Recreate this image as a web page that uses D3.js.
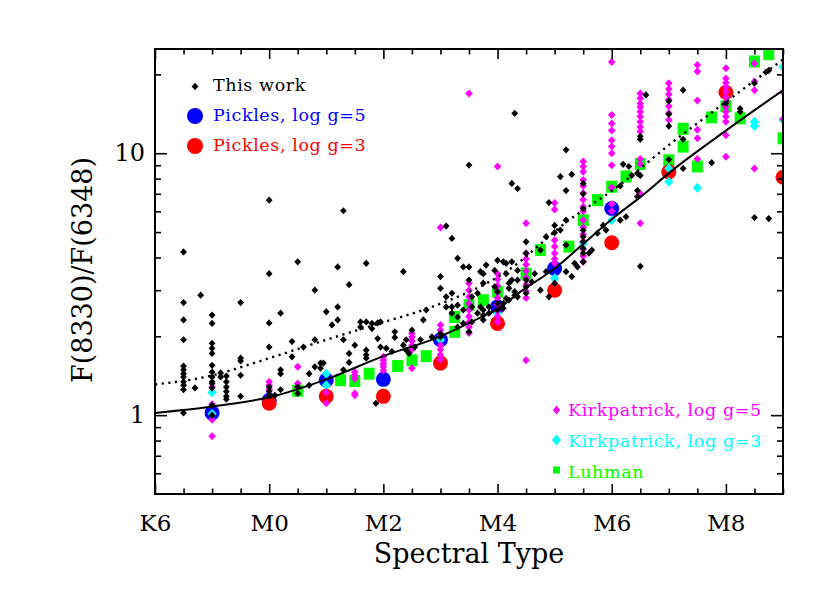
<!DOCTYPE html>
<html lang="en">
<head>
<meta charset="UTF-8">
<title>F(8330)/F(6348) vs Spectral Type</title>
<style>
  body { margin: 0; background: #fff; }
  svg text { font-family: "DejaVu Serif", serif; }
</style>
</head>
<body>
<svg id="chart" width="830" height="593"></svg>
<script src="https://d3js.org/d3.v7.min.js"></script>
<script>
// spectral subtype: K6=-2, K7=-1, M0=0 ... M9=9
const majorX = [-2, 0, 2, 4, 6, 8];
const xLabels = ["K6", "M0", "M2", "M4", "M6", "M8"];
const minorX = d3.range(-1.5, 9.01, 0.5).filter(v => !majorX.includes(v));
const majorY = [1, 10];
const minorY = [0.6, 0.7, 0.8, 0.9, 2, 3, 4, 5, 6, 7, 8, 9, 20];

const thisWork = [
  [-1.5,4.2],[-1.5,2.69],[-1.5,2.31],[-1.5,1.94],[-1.5,1.54],[-1.5,1.49],[-1.5,1.44],[-1.5,1.40],[-1.5,1.34],[-1.5,1.30],[-1.5,1.25],[-1.5,1.02],
  [-1.2,2.87],[-1.3,1.27],
  [-1,2.41],[-1,2.24],[-1,1.88],[-1,1.80],[-1,1.72],[-1,1.55],[-1,1.46],[-1,1.40],[-1,1.34],[-1,1.32],[-1,1.27],[-1,1.09],[-1,1.0],
  [-0.85,1.45],[-0.85,1.40],
  [-0.75,1.41],[-0.75,1.34],[-0.75,1.28],[-0.75,1.23],[-0.75,1.18],[-0.75,1.15],
  [-0.5,2.69],[-0.5,1.65],[-0.5,1.61],[-0.5,1.42],[-0.5,1.18],
  [0,6.62],[0,3.47],[0,2.25],[0,1.82],[0,1.28],[0,1.23],[0,1.18],
  [0.1,1.19],[0.2,2.45],[0.2,1.49],[0.2,1.44],[0.2,1.25],
  [0.4,1.91],[0.4,1.67],[0.5,3.85],[0.5,1.28],[0.5,1.21],[0.6,1.82],[0.7,1.44],[0.7,1.30],
  [0.8,3.0],[0.8,1.94],[0.8,1.53],[0.9,1.58],[0.95,1.58],[0.9,1.51],
  [1,2.48],[1.1,2.21],[1.2,2.59],[1.2,3.68],[1.2,2.31],
  [1.3,6.03],[1.3,1.94],[1.3,1.49],[1.4,3.15],[1.4,1.72],[1.4,1.59],[1.5,1.85],
  [1.6,2.27],[1.6,2.17],[1.7,2.27],[1.7,3.8],[1.7,1.77],[1.7,1.70],[1.7,1.65],
  [1.8,2.24],[1.8,2.14],[1.9,2.25],[1.9,1.96],[1.87,1.11],[1.95,2.27],[1.95,1.82],
  [2.05,1.80],[2.15,1.75],[2.2,2.08],[2.2,1.98],[2.35,3.53],[2.35,1.85],
  [2.4,1.94],[2.4,1.77],[2.45,1.72],[2.5,2.11],[2.55,1.82],[2.65,1.94],[2.7,2.31],[2.75,2.52],[2.85,1.99],
  [3,3.38],[3,3.05],[3,2.05],[3,1.99],[3.1,5.27],[3.1,2.59],[3.1,2.83],
  [3.2,4.73],[3.2,2.92],[3.2,2.59],[3.2,2.45],[3.3,3.97],[3.3,2.37],[3.3,2.63],[3.3,2.17],
  [3.4,3.68],[3.4,2.52],[3.4,2.24],[3.5,9.0],[3.5,3.68],[3.5,3.28],[3.5,2.08],
  [3.55,2.83],[3.55,2.59],[3.55,2.27],[3.65,2.92],[3.65,2.45],[3.7,3.53],[3.7,2.59],
  [3.75,3.19],[3.75,2.52],[3.75,2.41],[3.75,3.47],[3.75,2.31],[3.8,3.74],[3.85,2.59],[3.85,2.45],
  [3.95,3.09],[3.95,3.57],[4,2.96],[4,2.52],[4,3.9],[4,2.67],[4.1,2.67],[4.1,3.85],[4.1,2.56],
  [4.15,3.47],[4.15,3.8],[4.15,2.79],[4.2,3.19],[4.2,3.05],[4.2,2.75],
  [4.25,7.67],[4.25,3.85],[4.25,3.28],[4.3,14.2],[4.3,2.96],[4.3,2.87],[4.35,7.33],[4.35,3.28],[4.35,2.83],[4.35,3.57],
  [4.5,4.59],[4.5,4.15],[4.5,3.28],[4.5,3.09],[4.5,2.92],[4.6,3.23],[4.65,3.47],[4.75,4.27],[4.75,3.0],
  [4.85,4.8],[4.85,3.53],[4.9,6.48],[4.9,2.83],[5,5.3],[5,4.97],[5,3.19],
  [5.1,8.14],[5.1,5.09],[5.2,10.3],[5.2,7.2],[5.2,5.55],[5.2,3.53],[5.2,4.46],[5.3,8.3],[5.3,3.38],[5.35,3.8],[5.4,3.68],
  [5.5,7.67],[5.5,7.0],[5.5,6.15],[5.5,5.08],[5.5,4.8],[5.5,4.59],[5.5,4.33],[5.5,4.15],[5.5,3.85],
  [5.6,4.15],[5.65,4.27],[5.75,4.95],[5.85,5.3],[5.9,5.09],
  [6.15,5.55],[6.15,7.5],[6.2,9.07],[6.25,5.72],[6.3,8.9],[6.35,8.23],[6.45,7.2],[6.45,6.83],[6.45,8.38],
  [6.5,11.6],[6.5,11.3],[6.5,8.23],[6.5,3.7],[6.6,16.7],
  [7,15.8],[7,14.1],[7,12.7],[7,9.46],[7.25,17.4],[7.25,11.3],[7.25,8.75],[7.75,9.2],
  [8,15.5],[8.25,14.8],[8.25,14.4],[8.5,18.5],[8.5,5.68],[8.75,20.7],[8.7,20.4],[8.75,5.63]
];

const pickles5 = [[-1,1.02],[0,1.14],[1,1.36],[2,1.37],[3,1.94],[4,2.59],[5,3.63],[6,6.15]];
const pickles3 = [[0,1.11],[1,1.18],[2,1.18],[3,1.58],[4,2.24],[5,3.0],[6,4.55],[7,8.49],[8,17.1],[9,8.1]];

const kirk5 = [
  [-1,1.28],[-1,1.10],[-1,0.96],[-1,0.83],
  [0,1.34],[0,1.30],[0,1.25],
  [0.5,1.53],[0.5,1.32],[0.5,1.28],
  [1,1.22],[1,1.11],
  [1.5,1.46],[1.5,1.42],[1.5,1.38],[1.5,1.21],[1.5,1.19],
  [2,1.67],[2,1.62],[2,1.57],[2,1.53],[2,1.48],
  [2.5,2.05],[2.5,1.99],[2.5,1.92],[2.5,1.85],[2.5,1.78],[2.5,1.51],
  [3,5.2],[3,2.21],[3,2.11],[3,2.02],[3,1.85],[3,1.78],[3,1.70],[3,1.63],
  [3.5,16.9],[3.5,3.19],[3.5,3.0],[3.5,2.83],[3.5,2.67],[3.5,2.52],[3.5,2.38],[3.5,2.27],[3.5,2.17],[3.5,2.06],
  [4,8.9],[4,3.47],[4,3.3],[4,3.12],[4,2.95],[4,2.8],[4,2.65],[4,2.5],[4,2.38],[4,2.27],
  [4.5,5.4],[4.5,4.15],[4.5,3.95],[4.5,3.75],[4.5,3.55],[4.5,3.35],[4.5,3.15],[4.5,2.97],[4.5,2.8],[4.5,1.62],
  [5,6.45],[5,6.1],[5,4.65],[5,4.4],[5,4.15],[5,3.95],[5,3.8],
  [5.5,9.3],[5.5,8.9],[5.5,8.5],[5.5,7.9],[5.5,7.5],[5.5,7.05],[5.5,6.65],[5.5,6.25],[5.5,6.0],
  [5.5,5.55],[5.5,5.2],[5.5,4.9],[5.5,4.6],[5.5,4.3],[5.5,4.05],[5.5,3.85],
  [6,22.3],[6,14.0],[6,13.0],[6,12.2],[6,11.2],[6,10.6],[6,10.0],[6,9.0],[6,7.4],[6,6.4],[6,6.0],
  [6.5,16.9],[6.5,16.2],[6.5,15.5],[6.5,15.0],[6.5,14.4],[6.5,13.8],[6.5,13.2],[6.5,12.6],[6.5,12.1],[6.5,9.5],[6.5,9.1],[6.5,7.0],[6.5,5.4],
  [7,18.5],[7,17.6],[7,16.8],[7,16.0],[7,15.1],[7,14.2],[7,13.4],
  [7.5,21.7],[7.5,20.5],[7.5,15.9],[7.5,12.3],[7.5,11.4],[7.5,9.5],
  [8,21.1],[8,19.3],[8,18.6],[8,17.9],[8,17.2],[8,16.4],[8,15.7],[8,15.0],[8,14.4],[8,13.8],[8,13.2],[8,11.7],[8,9.7],
  [8.5,22.0],[8.5,18.8],[8.5,17.4],[8.5,8.75],
  [9,17.1],[9,13.5]
];

const kirk3 = [[-1,1.22],[-1,1.01],[1,1.44],[1,1.30],[3,1.94],[4,2.45],[5,3.33],[5.5,4.53],[6,5.55],
  [7,8.75],[7,7.78],[7.5,7.38],[8.5,13.2],[8.5,12.7],[9,21.4],[9,13.4]];

const luhman = [[0.5,1.24],[1.25,1.36],[1.5,1.35],[1.75,1.44],[2.25,1.54],[2.5,1.62],[2.75,1.68],
  [3.25,2.37],[3.25,2.08],[3.5,2.63],[3.75,2.75],[4,2.96],[4.5,3.47],[4.75,4.27],[5.25,4.4],
  [5.5,5.55],[5.75,6.62],[6,7.45],[6.25,8.15],[6.5,9.1],[7,9.4],[7.25,12.4],[7.25,10.6],[7.5,8.9],
  [7.75,13.7],[8,15.1],[8.25,13.6],[8.5,22.4],[8.75,23.9],[9,11.4]];

const fitSolid = [[-2,1.02],[-1,1.08],[0,1.17],[1,1.37],[2,1.68],[3,2.0],[3.56,2.28],[4,2.55],[4.44,3.0],
  [5,3.63],[5.5,4.5],[6,5.6],[6.5,6.8],[7.06,8.6],[8,12.2],[9,17.4]];
const fitDotted = [[-2,1.31],[-1.11,1.40],[0,1.65],[1,1.94],[1.93,2.24],[2.85,2.59],[4.15,3.53],
  [5.25,5.55],[6.1,7.45],[7.06,11.0],[8,15.7],[9,22.8]];

const svg = d3.select("#chart");
const plotLeft = 155, plotRight = 783, plotTop = 49, plotBottom = 494;

const x = d3.scaleLinear().domain([-2, 9]).range([plotLeft, plotRight]);
const y = d3.scaleLog().domain([0.5, 25]).range([plotBottom, plotTop]);

function diamond(cx, cy, w, h) {
  return `M${cx},${cy - h}L${cx + w},${cy}L${cx},${cy + h}L${cx - w},${cy}Z`;
}

svg.append("clipPath").attr("id", "clip")
  .append("rect").attr("x", plotLeft).attr("y", plotTop)
  .attr("width", plotRight - plotLeft).attr("height", plotBottom - plotTop);

const plot = svg.append("g").attr("clip-path", "url(#clip)");

plot.selectAll(".luh").data(luhman).join("rect")
  .attr("x", d => x(d[0]) - 5.5).attr("y", d => y(d[1]) - 6)
  .attr("width", 11).attr("height", 12).attr("fill", "#00ff00");

plot.selectAll(".p5").data(pickles5).join("circle")
  .attr("cx", d => x(d[0])).attr("cy", d => y(d[1])).attr("r", 7.5).attr("fill", "#0000ff");

plot.selectAll(".p3").data(pickles3).join("circle")
  .attr("cx", d => x(d[0])).attr("cy", d => y(d[1])).attr("r", 7.5).attr("fill", "#ff0000");

plot.selectAll(".k3").data(kirk3).join("path")
  .attr("d", d => diamond(x(d[0]), y(d[1]), 4.6, 5)).attr("fill", "#00ffff");

plot.selectAll(".k5").data(kirk5).join("path")
  .attr("d", d => diamond(x(d[0]), y(d[1]), 3.8, 4)).attr("fill", "#ff00ff");

plot.selectAll(".tw").data(thisWork).join("path")
  .attr("d", d => diamond(x(d[0]), y(d[1]), 3.4, 3.6)).attr("fill", "#000");

const line = d3.line().x(d => x(d[0])).y(d => y(d[1])).curve(d3.curveMonotoneX);

plot.append("path").datum(fitDotted)
  .attr("d", line).attr("fill", "none").attr("stroke", "#000")
  .attr("stroke-width", 2.4).attr("stroke-dasharray", "2.2,4.5");

plot.append("path").datum(fitSolid)
  .attr("d", line).attr("fill", "none").attr("stroke", "#000").attr("stroke-width", 2);

// axes: inward ticks on all four sides
function styleAxis(sel, size) {
  sel.select(".domain").remove();
  sel.selectAll(".tick line").attr("stroke", "#000").attr("stroke-width", 1.6);
  sel.attr("font-family", "DejaVu Serif").attr("font-size", size);
  sel.selectAll(".tick text").attr("fill", "#000");
}

svg.append("g").attr("transform", `translate(0,${plotBottom})`)
  .call(d3.axisBottom(x).tickValues(majorX).tickFormat((d, i) => xLabels[i]).tickSize(-10).tickSizeOuter(0).tickPadding(21))
  .call(styleAxis, 23);
svg.append("g").attr("transform", `translate(0,${plotBottom})`)
  .call(d3.axisBottom(x).tickValues(minorX).tickFormat("").tickSize(-5.5).tickSizeOuter(0))
  .call(styleAxis, 23);
svg.append("g").attr("transform", `translate(0,${plotTop})`)
  .call(d3.axisTop(x).tickValues(majorX).tickFormat("").tickSize(-10).tickSizeOuter(0))
  .call(styleAxis, 23);
svg.append("g").attr("transform", `translate(0,${plotTop})`)
  .call(d3.axisTop(x).tickValues(minorX).tickFormat("").tickSize(-5.5).tickSizeOuter(0))
  .call(styleAxis, 23);

svg.append("g").attr("transform", `translate(${plotLeft},0)`)
  .call(d3.axisLeft(y).tickValues(majorY).tickFormat(d3.format("d")).tickSize(-12).tickSizeOuter(0).tickPadding(10))
  .call(styleAxis, 24);
svg.append("g").attr("transform", `translate(${plotLeft},0)`)
  .call(d3.axisLeft(y).tickValues(minorY).tickFormat("").tickSize(-6).tickSizeOuter(0))
  .call(styleAxis, 24);
svg.append("g").attr("transform", `translate(${plotRight},0)`)
  .call(d3.axisRight(y).tickValues(majorY).tickFormat("").tickSize(-12).tickSizeOuter(0))
  .call(styleAxis, 24);
svg.append("g").attr("transform", `translate(${plotRight},0)`)
  .call(d3.axisRight(y).tickValues(minorY).tickFormat("").tickSize(-6).tickSizeOuter(0))
  .call(styleAxis, 24);

svg.append("rect")
  .attr("x", plotLeft).attr("y", plotTop)
  .attr("width", plotRight - plotLeft).attr("height", plotBottom - plotTop)
  .attr("fill", "none").attr("stroke", "#000").attr("stroke-width", 2);

// axis titles
svg.append("text")
  .attr("x", (plotLeft + plotRight) / 2).attr("y", 563)
  .attr("text-anchor", "middle").attr("font-size", 27).attr("fill", "#000")
  .text("Spectral Type");

svg.append("text")
  .attr("transform", "translate(92,270) rotate(-90)")
  .attr("text-anchor", "middle").attr("font-size", 27).attr("fill", "#000")
  .text("F(8330)/F(6348)");

// legends
const legendTop = [
  { label: "This work", color: "#000", mark: "diamond", w: 3.4, h: 3.8, px: 195, py: 86.5, ty: 91 },
  { label: "Pickles, log g=5", color: "#0000ff", mark: "circle", r: 8, px: 195, py: 116, ty: 121 },
  { label: "Pickles, log g=3", color: "#ff0000", mark: "circle", r: 8, px: 195, py: 146, ty: 151 }
];
const legendBottom = [
  { label: "Kirkpatrick, log g=5", color: "#ff00ff", mark: "diamond", w: 3.6, h: 4.5, px: 556.5, py: 410, ty: 416 },
  { label: "Kirkpatrick, log g=3", color: "#00ffff", mark: "diamond", w: 4.5, h: 5.5, px: 556.5, py: 440, ty: 447 },
  { label: "Luhman", color: "#00ff00", mark: "square", s: 7, px: 556.5, py: 470, ty: 478 }
];

const legend = svg.append("g");
legendTop.concat(legendBottom).forEach(e => {
  if (e.mark === "circle") {
    legend.append("circle").attr("cx", e.px).attr("cy", e.py).attr("r", e.r).attr("fill", e.color);
  } else if (e.mark === "diamond") {
    legend.append("path").attr("d", diamond(e.px, e.py, e.w, e.h)).attr("fill", e.color);
  } else {
    legend.append("rect").attr("x", e.px - e.s / 2).attr("y", e.py - e.s / 2)
      .attr("width", e.s).attr("height", e.s).attr("fill", e.color);
  }
  legend.append("text")
    .attr("x", e.px < 400 ? 213 : 568).attr("y", e.ty)
    .attr("font-size", 17.5).attr("letter-spacing", 0.6)
    .attr("fill", e.color).text(e.label);
});
</script>
</body>
</html>
